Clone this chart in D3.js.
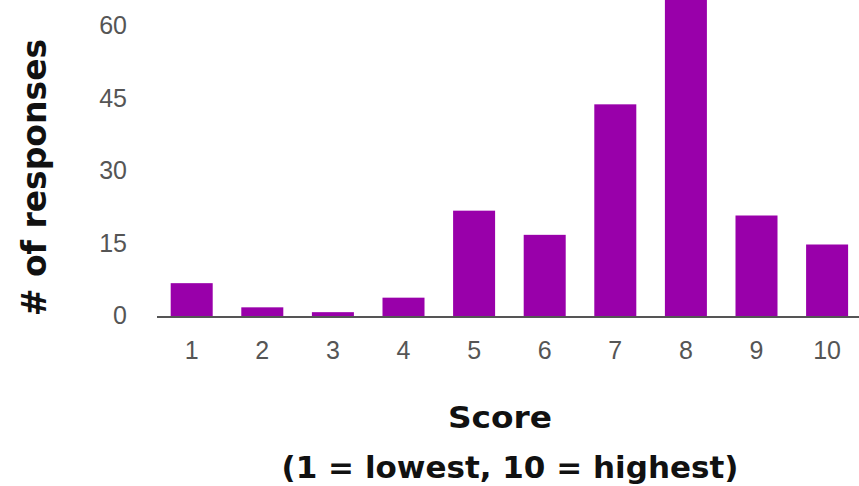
<!DOCTYPE html>
<html>
<head>
<meta charset="utf-8">
<script src="https://cdn.jsdelivr.net/npm/d3@7"></script>
<style>
  html, body { margin: 0; padding: 0; background: #fff; }
  svg { display: block; }
</style>
</head>
<body>
<svg id="chart" width="859" height="486"></svg>
<script>
// Survey score distribution
const scores = ["1", "2", "3", "4", "5", "6", "7", "8", "9", "10"];
const responses = [7, 2, 1, 4, 22, 17, 44, 67, 21, 15];
const yTicks = [0, 15, 30, 45, 60];

const svg = d3.select("#chart");
const W = 859, H = 486;

const x = d3.scaleBand()
  .domain(scores)
  .range([156.4, 862.4])
  .paddingInner(0.405)
  .paddingOuter(0.2025);

const y = d3.scaleLinear()
  .domain([0, 60])
  .range([317, 27]);

// bars
svg.append("g")
  .selectAll("rect")
  .data(scores.map((s, i) => ({ s, v: responses[i] })))
  .join("rect")
  .attr("x", d => x(d.s))
  .attr("y", d => y(d.v))
  .attr("width", x.bandwidth())
  .attr("height", d => y(0) - y(d.v))
  .attr("fill", "#9900aa");

// baseline
svg.append("line")
  .attr("x1", 157).attr("x2", W)
  .attr("y1", y(0)).attr("y2", y(0))
  .attr("stroke", "#555")
  .attr("stroke-width", 2);

const tickFont = "'Liberation Sans', Arial, sans-serif";

// y axis labels
const yAxis = d3.axisLeft(y).tickValues(yTicks).tickSize(0).tickPadding(0);
const gy = svg.append("g").attr("transform", "translate(127,-1.5)").call(yAxis);
gy.select(".domain").remove();
gy.selectAll("text")
  .attr("font-family", tickFont)
  .attr("font-size", 25)
  .attr("fill", "#555");

// x axis labels
const xAxis = d3.axisBottom(x).tickSize(0).tickPadding(0);
const gx = svg.append("g").attr("transform", "translate(0,341)").call(xAxis);
gx.select(".domain").remove();
gx.selectAll("text")
  .attr("font-family", tickFont)
  .attr("font-size", 25)
  .attr("fill", "#555");

// axis titles
const titleFont = "'DejaVu Sans', sans-serif";
svg.append("text")
  .attr("transform", "translate(46,177.5) rotate(-90)")
  .attr("text-anchor", "middle")
  .attr("font-family", titleFont)
  .attr("font-weight", "bold")
  .attr("font-size", 33)
  .attr("fill", "#111")
  .text("# of responses");

svg.append("text")
  .attr("x", 500).attr("y", 428)
  .attr("text-anchor", "middle")
  .attr("font-family", titleFont)
  .attr("font-weight", "bold")
  .attr("font-size", 31)
  .attr("textLength", 104)
  .attr("lengthAdjust", "spacingAndGlyphs")
  .attr("fill", "#111")
  .text("Score");

svg.append("text")
  .attr("x", 510).attr("y", 478)
  .attr("text-anchor", "middle")
  .attr("font-family", titleFont)
  .attr("font-weight", "bold")
  .attr("font-size", 31)
  .attr("fill", "#111")
  .text("(1 = lowest, 10 = highest)");
</script>
</body>
</html>
